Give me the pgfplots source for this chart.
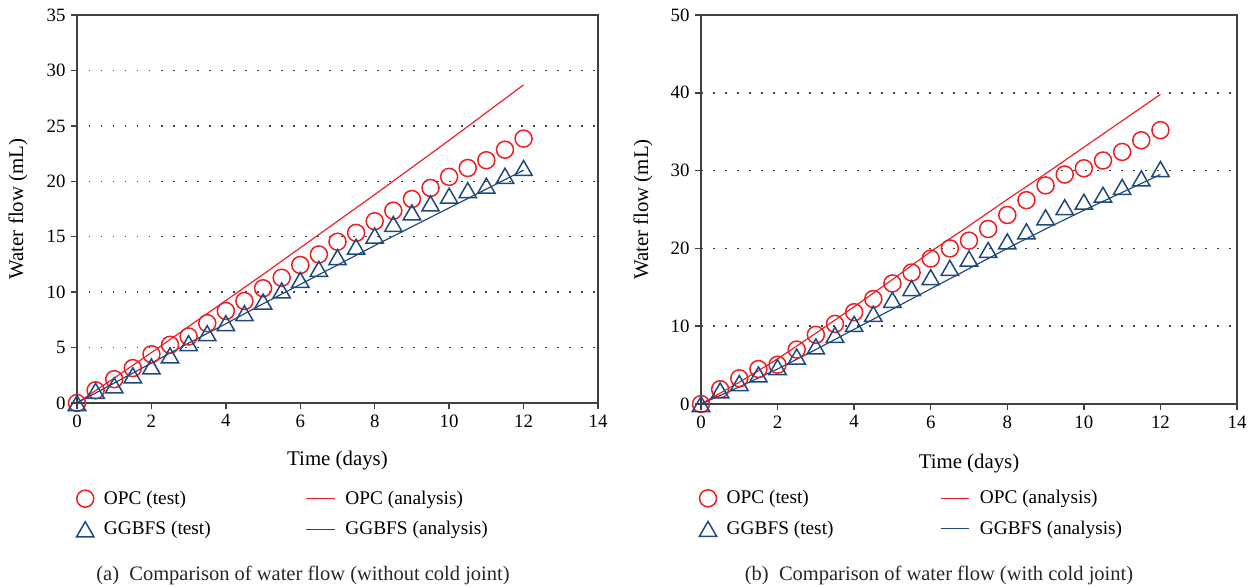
\documentclass[border=0pt]{standalone}
\usepackage{pgfplots}
\pgfplotsset{compat=1.18}
\usepackage{fontspec}
\setmainfont{Liberation Serif}
\definecolor{opcred}{RGB}{237,30,36}
\definecolor{ggblue}{RGB}{31,73,125}
\definecolor{axgray}{RGB}{64,64,64}

\pgfplotsset{
  myaxis/.style={
    scale only axis,
    clip=false,
    xmin=0, xmax=14, ymin=0,
    xtick={0,2,...,14},
    xtick pos=left, ytick pos=left,
    tick align=outside,
    major tick length=3.4pt,
    tick style={axgray, line width=0.9pt},
    axis line style={axgray, line width=0.9pt},
    ymajorgrids,
    grid style={black!75, line width=0.9pt, dash pattern=on 0.9pt off 6.3pt},
    /pgf/number format/assume math mode=true,
    ticklabel style={font=\rmfamily\fontsize{11.3}{13}\selectfont},
    label style={font=\fontsize{12.5}{14}\selectfont},
    xlabel={Time (days)},
    ylabel={Water flow (mL)},
    legend columns=2,
    legend cell align=left,
    legend style={draw=none, fill=none, anchor=north west,
      font=\fontsize{11.6}{13.5}\selectfont,
      row sep=4.8pt,
      /tikz/every odd column/.append style={column sep=4pt}},
  },
  testopc/.style={only marks, mark=o, mark size=5.1pt, opcred,
    mark options={line width=0.9pt}},
  testgg/.style={only marks, mark=triangle, mark size=6pt, ggblue,
    mark options={line width=0.9pt, yshift=-1.5pt}},
  anaopc/.style={no marks, opcred, line width=0.7pt},
  anagg/.style={no marks, ggblue, line width=0.7pt},
}

\begin{document}
\begin{tikzpicture}
\path[use as bounding box] (0pt,0pt) rectangle (752.4pt,-351.6pt);

% (a)
\begin{axis}[myaxis,
  at={(46.2pt,-241.8pt)}, anchor=south west,
  width=312.6pt, height=232.8pt,
  ymax=35, ytick={0,5,...,35},
  xlabel style={at={(axis description cs:0.5,-0.147)}, anchor=center},
  ylabel style={at={(axis description cs:-0.113,0.5)}, anchor=center},
  legend style={at={(axis description cs:-0.011,-0.208)},
    /tikz/every even column/.append style={column sep=55pt}},
]
\addplot[testopc] coordinates {
(0,0) (0.5,1.15) (1,2.15) (1.5,3.15) (2,4.4) (2.5,5.25) (3,6.0) (3.5,7.2)
(4,8.3) (4.5,9.2) (5,10.35) (5.5,11.3) (6,12.45) (6.5,13.4) (7,14.55)
(7.5,15.35) (8,16.4) (8.5,17.35) (9,18.4) (9.5,19.4) (10,20.4) (10.5,21.2)
(11,21.9) (11.5,22.85) (12,23.85)};
\addlegendentry{OPC (test)}
\addplot[anaopc] coordinates {
(0,0) (1,2.25) (2,4.55) (3,6.9) (4,9.25) (5,11.6) (6,14.0) (7,16.4)
(8,18.8) (9,21.25) (10,23.7) (11,26.2) (12,28.7)};
\addlegendentry{OPC (analysis)}
\addplot[testgg] coordinates {
(0,0) (0.5,1.1) (1,1.6) (1.5,2.5) (2,3.3) (2.5,4.3) (3,5.4) (3.5,6.3)
(4,7.2) (4.5,8.1) (5,9.15) (5.5,10.15) (6,11.1) (6.5,12.1) (7,13.15)
(7.5,14.1) (8,15.1) (8.5,16.15) (9,17.2) (9.5,18.0) (10,18.7) (10.5,19.2)
(11,19.6) (11.5,20.5) (12,21.2)};
\addlegendentry{GGBFS (test)}
\addplot[anagg] coordinates {
(0,0) (1,1.8) (2,3.6) (3,5.4) (4,7.15) (5,8.95) (6,10.7) (7,12.45)
(8,14.2) (9,15.9) (10,17.6) (11,19.3) (12,21.0)};
\addlegendentry{GGBFS (analysis)}
\end{axis}

% (b)
\begin{axis}[myaxis,
  at={(420.6pt,-242.4pt)}, anchor=south west,
  width=321.6pt, height=233.4pt,
  ymax=50, ytick={0,10,...,50},
  xlabel style={at={(axis description cs:0.5,-0.152)}, anchor=center},
  ylabel style={at={(axis description cs:-0.108,0.5)}, anchor=center},
  legend style={at={(axis description cs:-0.013,-0.204)},
    /tikz/every even column/.append style={column sep=62pt}},
]
\addplot[testopc] coordinates {
(0,0) (0.5,1.9) (1,3.3) (1.5,4.5) (2,5.05) (2.5,7.0) (3,8.9) (3.5,10.3)
(4,11.8) (4.5,13.5) (5,15.5) (5.5,16.9) (6,18.7) (6.5,20.0) (7,21.0)
(7.5,22.5) (8,24.3) (8.5,26.2) (9,28.1) (9.5,29.5) (10,30.3) (10.5,31.3)
(11,32.4) (11.5,33.9) (12,35.2)};
\addlegendentry{OPC (test)}
\addplot[anaopc] coordinates {
(0,0) (1,2.8) (2,5.8) (3,9.1) (4,12.5) (5,16.0) (6,19.6) (7,22.9)
(8,26.3) (9,29.6) (10,33.0) (11,36.4) (12,39.8)};
\addlegendentry{OPC (analysis)}
\addplot[testgg] coordinates {
(0,0) (0.5,1.75) (1,2.7) (1.5,3.8) (2,4.75) (2.5,6.1) (3,7.4) (3.5,8.9)
(4,10.3) (4.5,11.6) (5,13.4) (5.5,14.9) (6,16.3) (6.5,17.5) (7,18.7)
(7.5,19.8) (8,20.9) (8.5,22.2) (9,24.0) (9.5,25.3) (10,26.0) (10.5,26.9)
(11,27.9) (11.5,29.0) (12,30.2)};
\addlegendentry{GGBFS (test)}
\addplot[anagg] coordinates {
(0,0) (1,2.2) (2,4.5) (3,7.0) (4,9.6) (5,12.2) (6,14.8) (7,17.4)
(8,20.0) (9,22.5) (10,24.9) (11,27.2) (12,29.5)};
\addlegendentry{GGBFS (analysis)}
\end{axis}

\node[anchor=base, font=\fontsize{12.3}{14}\selectfont, text=black!85] at (181.8pt,-348pt)
  {(a)\hspace{0.5em}Comparison of water flow (without cold joint)};
\node[anchor=base, font=\fontsize{12.3}{14}\selectfont, text=black!85] at (563.4pt,-348pt)
  {(b)\hspace{0.5em}Comparison of water flow (with cold joint)};
\end{tikzpicture}
\end{document}
